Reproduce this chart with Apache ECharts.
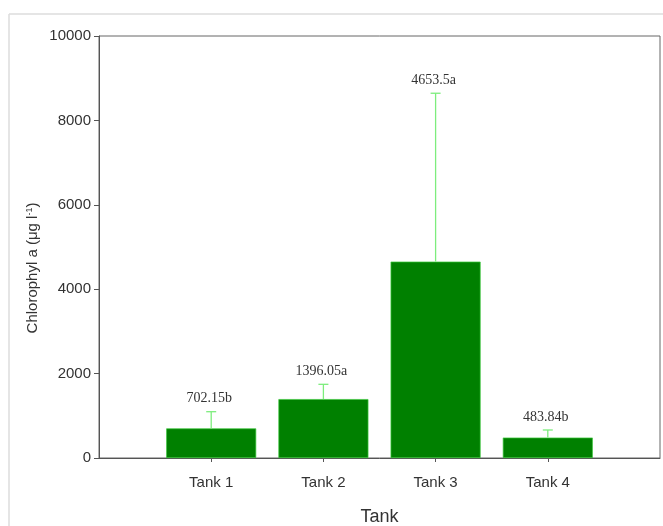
<!DOCTYPE html>
<html>
<head>
<meta charset="utf-8">
<script src="https://cdn.jsdelivr.net/npm/echarts@6/dist/echarts.min.js"></script>
<style>
  html, body { margin: 0; padding: 0; background: #fff; }
  #chart { width: 663px; height: 526px; }
</style>
</head>
<body>
<div id="chart"></div>
<script>
  // data
  const categories = ['Tank 1', 'Tank 2', 'Tank 3', 'Tank 4'];
  const means = [702.15, 1396.05, 4653.5, 483.84];
  const errors = [395, 350, 3990, 180]; // upper error (approx.)
  const labelTexts = ['702.15b', '1396.05a', '4653.5a', '483.84b'];
  const yTicks = [0, 2000, 4000, 6000, 8000, 10000];

  // padded axis: empty slot at each end so the tanks sit at 1..4 of 0..5
  const xData = [''].concat(categories, ['']);
  const pad = (arr) => [null].concat(arr, [null]);

  const chart = echarts.init(document.getElementById('chart'));

  const option = {
    animation: false,
    backgroundColor: '#fff',
    grid: {
      left: 99,
      right: 3,
      top: 36,
      bottom: 68,
      containLabel: false,
      outerBoundsMode: 'none',
      show: true,
      borderColor: '#666',
      borderWidth: 1,
    },
    xAxis: {
      type: 'category',
      data: xData,
      boundaryGap: false,
      name: 'Tank',
      nameLocation: 'middle',
      nameGap: 50,
      nameTextStyle: { fontFamily: 'Liberation Sans', fontSize: 18, color: '#333' },
      axisLine: { lineStyle: { color: '#555', width: 1 } },
      axisTick: {
        length: 4,
        interval: (i, v) => v !== '',
        lineStyle: { color: '#555' },
      },
      axisLabel: {
        interval: 0,
        margin: 17,
        fontFamily: 'Liberation Sans',
        fontSize: 15,
        color: '#333',
      },
      splitLine: { show: false },
    },
    yAxis: {
      type: 'value',
      min: yTicks[0],
      max: yTicks[yTicks.length - 1],
      interval: 2000,
      axisLine: { show: true, lineStyle: { color: '#555', width: 1 } },
      axisTick: { show: true, length: 5, lineStyle: { color: '#555' } },
      axisLabel: {
        margin: 8,
        fontFamily: 'Liberation Sans',
        fontSize: 15,
        color: '#333',
        formatter: (v) => String(v),
      },
      splitLine: { show: false },
    },
    series: [
      {
        type: 'bar',
        data: pad(means),
        barWidth: 90,
        itemStyle: { color: '#008000', borderColor: '#3cc83c', borderWidth: 0.7 },
        z: 2,
      },
      {
        type: 'custom',
        data: categories.map((c, i) => [i + 1, means[i], means[i] + errors[i], i]),
        z: 3,
        renderItem: (params, api) => {
          const x = api.value(0);
          const base = api.coord([x, api.value(1)]);
          const top = api.coord([x, api.value(2)]);
          const half = 5;
          return {
            type: 'group',
            children: [
              {
                type: 'line',
                shape: { x1: base[0], y1: base[1], x2: top[0], y2: top[1] },
                style: { stroke: '#7ded7d', lineWidth: 1.3 },
              },
              {
                type: 'line',
                shape: { x1: top[0] - half, y1: top[1], x2: top[0] + half, y2: top[1] },
                style: { stroke: '#7ded7d', lineWidth: 1.3 },
              },
              {
                type: 'text',
                style: {
                  text: labelTexts[api.value(3)],
                  x: top[0] - 2,
                  y: top[1] - 13,
                  align: 'center',
                  verticalAlign: 'middle',
                  fontFamily: 'Liberation Serif',
                  fontSize: 14,
                  fill: '#333',
                },
              },
            ],
          };
        },
      },
    ],
    graphic: [
      // light frame of the original figure
      {
        type: 'line',
        shape: { x1: 9, y1: 14, x2: 663, y2: 14 },
        style: { stroke: '#dcdcdc', lineWidth: 1.5 },
      },
      {
        type: 'line',
        shape: { x1: 9, y1: 14, x2: 9, y2: 526 },
        style: { stroke: '#dcdcdc', lineWidth: 1.5 },
      },
      {
        type: 'text',
        x: 33,
        y: 268,
        rotation: Math.PI / 2,
        style: {
          text: 'Chlorophyl a (μg l{sup|-1})',
          align: 'center',
          verticalAlign: 'middle',
          fontFamily: 'Liberation Sans',
          fontSize: 15,
          fill: '#333',
          rich: {
            sup: { fontSize: 9, verticalAlign: 'top', fill: '#333', padding: [0, 0, 7, 0] },
          },
        },
      },
    ],
  };

  chart.setOption(option);
</script>
</body>
</html>
